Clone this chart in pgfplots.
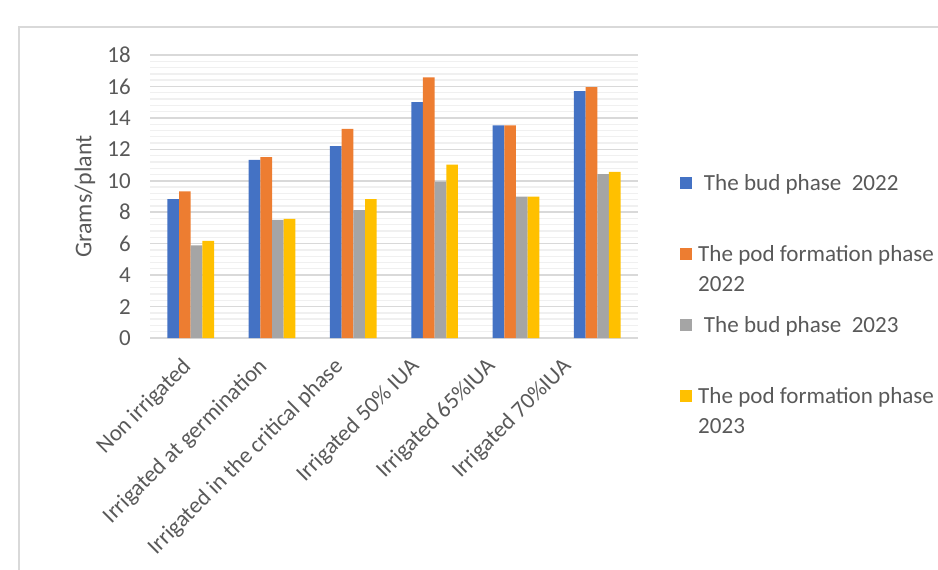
\documentclass[border=0pt]{standalone}
\usepackage{pgfplots}
\pgfplotsset{compat=1.18}
\usepackage{fontspec}
\setmainfont{Carlito}
\definecolor{cblue}{HTML}{4472C4}
\definecolor{corange}{HTML}{ED7D31}
\definecolor{cgray}{HTML}{A5A5A5}
\definecolor{cyellow}{HTML}{FFC000}
\definecolor{txt}{HTML}{595959}
\definecolor{gmaj}{HTML}{D9D9D9}
\definecolor{gmin}{HTML}{F0F0F0}
\begin{document}
\begin{tikzpicture}
\path[use as bounding box] (0,0) rectangle (703.5pt,426.75pt);
\draw[gmaj, line width=1pt] (14.25pt,-2pt) -- (14.25pt,406.5pt) -- (706pt,406.5pt);
\begin{axis}[
  at={(112.5pt,173.25pt)}, anchor=south west,
  scale only axis, width=366pt, height=212.25pt,
  ybar=0pt, bar width=8.75pt,
  xmin=-0.5, xmax=5.5, ymin=0, ymax=18,
  ytick={0,2,...,18}, minor y tick num=4,
  xtick={0,...,5},
  xticklabels={Non irrigated, Irrigated at germination, Irrigated in the critical phase, Irrigated 50\% IUA, Irrigated 65\%IUA, Irrigated 70\%IUA},
  axis lines*=left,
  x axis line style={draw=none}, y axis line style={draw=none},
  major tick length=0pt, minor tick length=0pt,
  tick style={draw=none},
  ymajorgrids, yminorgrids,
  major grid style={gmaj, line width=1.1pt},
  minor grid style={gmin, line width=1pt},
  /pgf/number format/assume math mode=true,
  tick label style={font=\fontsize{17.2}{20}\selectfont, text=txt},
  yticklabel style={anchor=east, inner sep=0pt, xshift=-14.25pt},
  xticklabel style={xshift={-7.5pt-4*\ticknum pt}, yshift=-13.5pt, rotate=45, anchor=north east, inner sep=0pt},
  ylabel={Grams/plant},
  every axis y label/.style={at={(axis description cs:-0.1332,0.5)}, rotate=90, anchor=center, font=\fontsize{18}{21}\selectfont, text=txt},
  legend image code/.code={\fill[#1, draw=none] (0pt,1pt) rectangle (9pt,10pt);},
  legend style={at={(rel axis cs:1.086,0.5795)}, anchor=north west, draw=none, fill=none,
    font=\fontsize{17.3}{22.5}\selectfont, text=txt, row sep=11.2pt, column sep=4.5pt, inner sep=0pt,
    cells={anchor=base west},
    nodes={text height=12pt, text depth=30pt, inner sep=0pt}},
]
\addplot[fill=cblue, draw=none] coordinates {(0,8.83) (1,11.33) (2,12.20) (3,15.01) (4,13.53) (5,15.71)};
\addlegendentry{\hspace*{0.25em}The bud phase\ \ 2022}
\addplot[fill=corange, draw=none] coordinates {(0,9.32) (1,11.50) (2,13.30) (3,16.58) (4,13.53) (5,15.95)};
\addlegendentry{\begin{tabular}[t]{@{}l@{}}The pod formation phase\\2022\end{tabular}}
\addplot[fill=cgray, draw=none] coordinates {(0,5.89) (1,7.52) (2,8.13) (3,9.95) (4,9.00) (5,10.42)};
\addlegendentry{\hspace*{0.25em}The bud phase\ \ 2023}
\addplot[fill=cyellow, draw=none] coordinates {(0,6.18) (1,7.58) (2,8.83) (3,11.03) (4,9.00) (5,10.57)};
\addlegendentry{\begin{tabular}[t]{@{}l@{}}The pod formation phase\\2023\end{tabular}}
\end{axis}
\end{tikzpicture}
\end{document}
